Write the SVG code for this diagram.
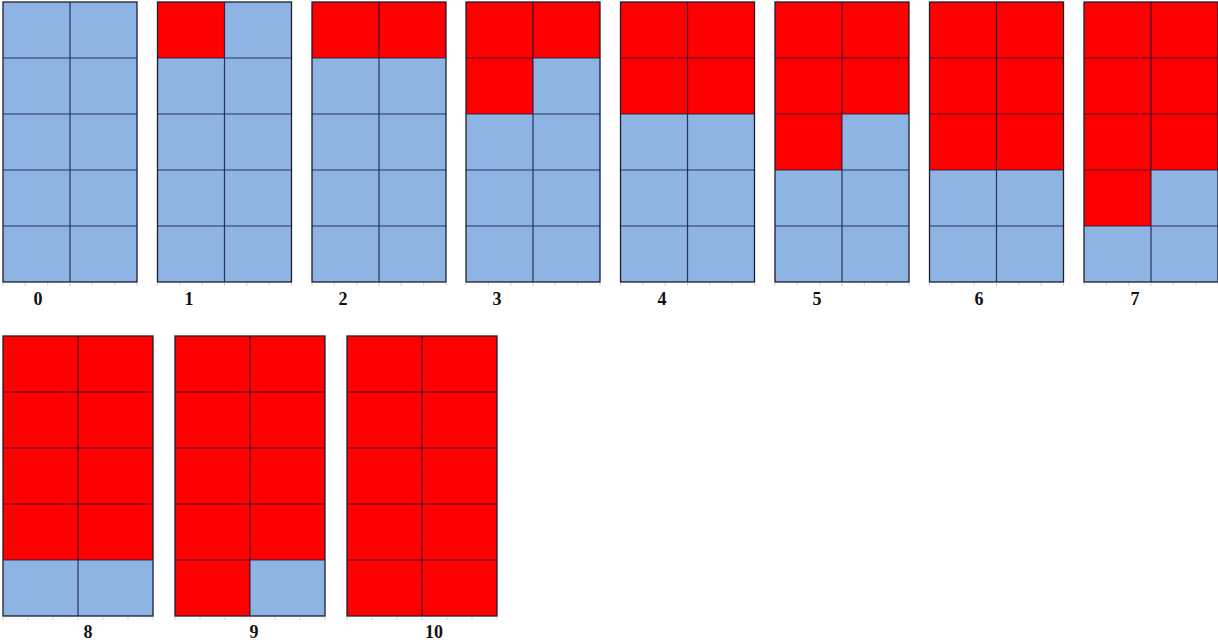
<svg xmlns="http://www.w3.org/2000/svg" width="1218" height="644" viewBox="0 0 1218 644">
<style>
.bg{fill:#8db4e2}
.r{fill:#ff0000}
.ln{fill:none;stroke:#12123c;stroke-opacity:0.8;stroke-width:1.2}
.bd{fill:none;stroke:#1e1e2e;stroke-width:1.3}
.tk{fill:none;stroke:#c8c8d0;stroke-width:0.8}
.lb{font-family:"Liberation Serif","Times New Roman",serif;font-weight:bold;font-size:18px;fill:#111;text-anchor:middle}
</style>
<defs>
<g id="gridS">
<rect class="bg" x="0" y="0" width="134" height="280"/>
</g>
<path id="linesS" class="ln" d="M67,0V280M0,56H134M0,112H134M0,168H134M0,224H134"/>
<path id="ticksS" class="tk" d="M0,281v3M22.3,281v3M44.7,281v3M67,281v3M89.3,281v3M111.7,281v3M134,281v3"/>
<rect id="bdS" class="bd" x="0" y="0" width="134" height="280"/>
<path id="linesL" class="ln" d="M75,0V280M0,56H150M0,112H150M0,168H150M0,224H150"/>
<path id="ticksL" class="tk" d="M0,281v3M25,281v3M50,281v3M75,281v3M100,281v3M125,281v3M150,281v3"/>
<rect id="bdL" class="bd" x="0" y="0" width="150" height="280"/>
</defs>

<g id="grid-0" transform="translate(3,2)">
<rect class="bg" x="0" y="0" width="134" height="280"/>
<use href="#linesS"/><use href="#ticksS"/><use href="#bdS"/>
<text class="lb" x="35" y="303">0</text>
</g>

<g id="grid-1" transform="translate(157.5,2)">
<rect class="bg" x="0" y="0" width="134" height="280"/>
<rect class="r" x="0" y="0" width="67" height="56"/>
<use href="#linesS"/><use href="#ticksS"/><use href="#bdS"/>
<text class="lb" x="31.5" y="303">1</text>
</g>

<g id="grid-2" transform="translate(312,2)">
<rect class="bg" x="0" y="0" width="134" height="280"/>
<rect class="r" x="0" y="0" width="134" height="56"/>
<use href="#linesS"/><use href="#ticksS"/><use href="#bdS"/>
<text class="lb" x="31" y="303">2</text>
</g>

<g id="grid-3" transform="translate(466,2)">
<rect class="bg" x="0" y="0" width="134" height="280"/>
<rect class="r" x="0" y="0" width="134" height="56"/>
<rect class="r" x="0" y="56" width="67" height="56"/>
<use href="#linesS"/><use href="#ticksS"/><use href="#bdS"/>
<text class="lb" x="31" y="303">3</text>
</g>

<g id="grid-4" transform="translate(620.5,2)">
<rect class="bg" x="0" y="0" width="134" height="280"/>
<rect class="r" x="0" y="0" width="134" height="112"/>
<use href="#linesS"/><use href="#ticksS"/><use href="#bdS"/>
<text class="lb" x="41.5" y="303">4</text>
</g>

<g id="grid-5" transform="translate(775,2)">
<rect class="bg" x="0" y="0" width="134" height="280"/>
<rect class="r" x="0" y="0" width="134" height="112"/>
<rect class="r" x="0" y="112" width="67" height="56"/>
<use href="#linesS"/><use href="#ticksS"/><use href="#bdS"/>
<text class="lb" x="42" y="303">5</text>
</g>

<g id="grid-6" transform="translate(929.5,2)">
<rect class="bg" x="0" y="0" width="134" height="280"/>
<rect class="r" x="0" y="0" width="134" height="168"/>
<use href="#linesS"/><use href="#ticksS"/><use href="#bdS"/>
<text class="lb" x="49.5" y="303">6</text>
</g>

<g id="grid-7" transform="translate(1084,2)">
<rect class="bg" x="0" y="0" width="134" height="280"/>
<rect class="r" x="0" y="0" width="134" height="168"/>
<rect class="r" x="0" y="168" width="67" height="56"/>
<use href="#linesS"/><use href="#ticksS"/><use href="#bdS"/>
<text class="lb" x="51" y="303">7</text>
</g>

<g id="grid-8" transform="translate(3,336)">
<rect class="bg" x="0" y="0" width="150" height="280"/>
<rect class="r" x="0" y="0" width="150" height="224"/>
<use href="#linesL"/><use href="#ticksL"/><use href="#bdL"/>
<text class="lb" x="85" y="302">8</text>
</g>

<g id="grid-9" transform="translate(175,336)">
<rect class="bg" x="0" y="0" width="150" height="280"/>
<rect class="r" x="0" y="0" width="150" height="224"/>
<rect class="r" x="0" y="224" width="75" height="56"/>
<use href="#linesL"/><use href="#ticksL"/><use href="#bdL"/>
<text class="lb" x="79" y="302">9</text>
</g>

<g id="grid-10" transform="translate(347,336)">
<rect class="bg" x="0" y="0" width="150" height="280"/>
<rect class="r" x="0" y="0" width="150" height="280"/>
<use href="#linesL"/><use href="#ticksL"/><use href="#bdL"/>
<text class="lb" x="87" y="302">10</text>
</g>

<g id="connectors"></g>
</svg>
